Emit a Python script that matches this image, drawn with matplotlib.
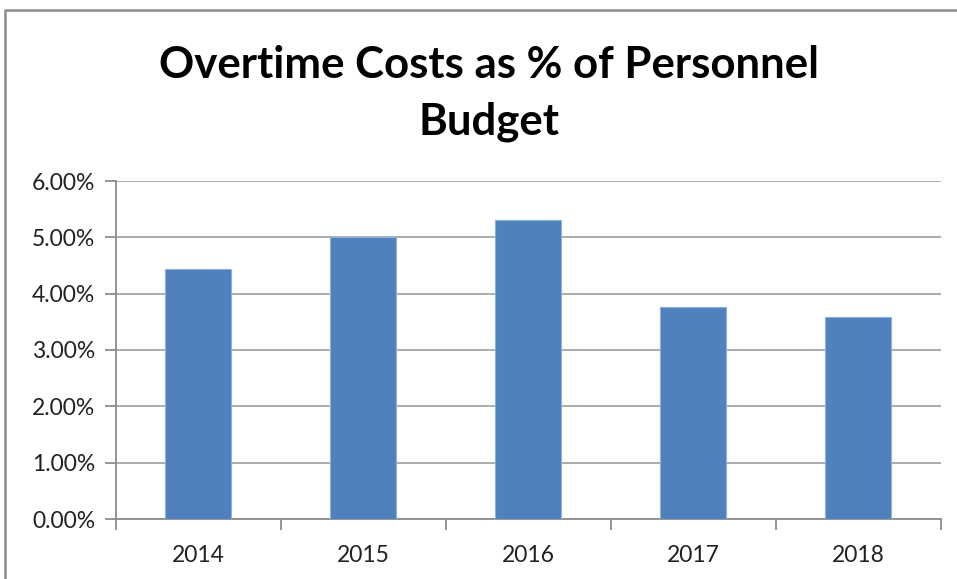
import matplotlib
matplotlib.use("Agg")
import matplotlib.pyplot as plt
from matplotlib.lines import Line2D
from matplotlib.ticker import FuncFormatter, FixedLocator
import numpy as np

# data
years = ["2014", "2015", "2016", "2017", "2018"]
overtime_pct = [4.44, 5.00, 5.31, 3.76, 3.58]
y_ticks = [0, 1, 2, 3, 4, 5, 6]

plt.rcParams['font.family'] = ['Lato', 'DejaVu Sans']

W, H = 957, 579
fig = plt.figure(figsize=(W / 100, H / 100), dpi=100)
ax = fig.add_axes([116 / W, 1 - 519 / H, (940.7 - 116) / W, (519 - 181) / H])

x = np.arange(len(years))
ax.bar(x, overtime_pct, width=0.4, color='#4F81BD', edgecolor='#8DB0DA', linewidth=0.8, zorder=3)

ax.set_xlim(-0.5, len(years) - 0.5)
ax.set_ylim(0, 6)
ax.set_yticks(y_ticks)
ax.yaxis.set_major_formatter(FuncFormatter(lambda v, p: "%.2f%%" % v))
ax.set_xticks(x)
ax.set_xticklabels(years)
ax.xaxis.set_minor_locator(FixedLocator(np.arange(-0.5, len(years), 1)))

ax.grid(axis='y', color='#A6A6A6', linewidth=1.3, zorder=0)
for s in ['top', 'right']:
    ax.spines[s].set_visible(False)
for s in ['left', 'bottom']:
    ax.spines[s].set_color('#8C8C8C')
    ax.spines[s].set_linewidth(1.3)

ax.tick_params(axis='y', length=8, width=1.3, color='#8C8C8C', labelsize=16.5, pad=7, labelcolor='#222222')
ax.tick_params(axis='x', which='major', length=0, labelsize=16.5, pad=19, labelcolor='#222222')
ax.tick_params(axis='x', which='minor', length=8, width=1.3, color='#8C8C8C')

fig.text(0.5105, 1 - 93 / H, "Overtime Costs as % of Personnel\nBudget", ha='center', va='center',
         fontsize=31.5, fontweight='bold', linespacing=1.5)

# chart area border (top and left edges visible)
fig.add_artist(Line2D([4.5 / W, 4.5 / W, 1], [0, 1 - 9.5 / H, 1 - 9.5 / H],
                      transform=fig.transFigure, color='#8C8C8C', linewidth=1.8))

fig.savefig("out.png", dpi=100)
